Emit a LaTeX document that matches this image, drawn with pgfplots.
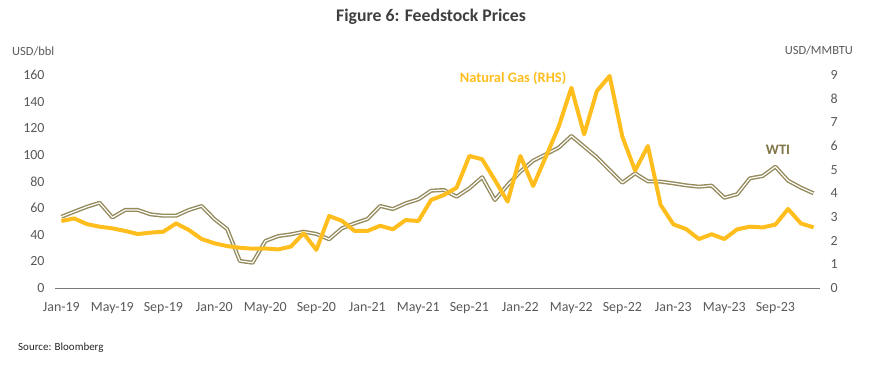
\documentclass[border=0pt]{standalone}
\usepackage{pgfplots}
\pgfplotsset{compat=1.18}
\usepackage{pgfplotstable}
\usepackage{fontspec}
\setmainfont{Carlito}
\definecolor{gas}{HTML}{FFBE1E}
\definecolor{wti}{HTML}{948A5C}
\definecolor{wtitext}{HTML}{7F7547}
\definecolor{txt}{HTML}{595959}
\definecolor{ttl}{HTML}{3F3F3F}
\pgfplotstableread{
i wti
0 53.5
1 57.3
2 61
3 64
4 53
5 58.6
6 58.6
7 55.3
8 54.3
9 54.3
10 58.6
11 61.6
12 51.8
13 44.3
14 20.3
15 19
16 35.3
17 39
18 40.3
19 42.3
20 40.6
21 36.6
22 44.8
23 48.6
24 51.8
25 61.6
26 59.3
27 63.6
28 66.6
29 73.1
30 73.6
31 68.6
32 74.9
33 83.2
34 66.1
35 77.4
36 87.4
37 95.6
38 100.4
39 105.4
40 114.2
41 106.2
42 98.2
43 88.6
44 79.1
45 86.1
46 80.1
47 79.9
48 78.6
49 77.1
50 76.1
51 76.9
52 67.8
53 70.4
54 82.4
55 84.1
56 91.1
57 80.6
58 75.4
59 71.1
}\wtidata
\pgfplotstableread{
i gas
0 2.83
1 2.94
2 2.70
3 2.59
4 2.52
5 2.41
6 2.28
7 2.34
8 2.38
9 2.73
10 2.45
11 2.07
12 1.89
13 1.77
14 1.70
15 1.66
16 1.67
17 1.63
18 1.75
19 2.31
20 1.61
21 3.04
22 2.84
23 2.41
24 2.41
25 2.63
26 2.48
27 2.87
28 2.83
29 3.72
30 3.93
31 4.24
32 5.58
33 5.44
34 4.56
35 3.65
36 5.58
37 4.31
38 5.55
39 6.81
40 8.46
41 6.49
42 8.32
43 8.96
44 6.39
45 4.96
46 6.0
47 3.51
48 2.69
49 2.49
50 2.07
51 2.27
52 2.07
53 2.48
54 2.59
55 2.56
56 2.68
57 3.34
58 2.73
59 2.56
}\gasdata
\begin{document}
\begin{tikzpicture}
\pgfplotsset{every axis/.append style={
  scale only axis, width=765bp, height=213bp,
  xmin=-0.5, xmax=59.5, ymin=0,
  at={(0pt,0pt)}, anchor=south west,
  axis line style={draw=none}, tick style={draw=none},
  tick label style={font=\fontsize{14}{16}\selectfont, text=txt},
  /pgf/number format/assume math mode=true,
  clip=false}}
\begin{axis}[
  ymax=160, ytick={0,20,...,160},
  yticklabel style={xshift=-7bp},
  xtick={0,4,...,56},
  xticklabels={Jan-19,May-19,Sep-19,Jan-20,May-20,Sep-20,Jan-21,May-21,Sep-21,Jan-22,May-22,Sep-22,Jan-23,May-23,Sep-23},
  xticklabel style={yshift=-11bp},
]
\draw[txt!80, line width=0.9bp] (axis cs:-0.5,0) -- (axis cs:59.5,0);
\addplot[draw=wti, double=white, double distance=1.2bp, line width=1.4bp, line join=round, mark=none] table[x=i,y=wti] {\wtidata};
\end{axis}
\begin{axis}[
  ymax=9, ytick={0,1,...,9},
  yticklabel pos=right,
  yticklabel style={xshift=7bp},
  xtick=\empty,
]
\addplot[draw=gas, line width=4bp, line join=round, mark=none] table[x=i,y=gas] {\gasdata};
\end{axis}
\node[font=\bfseries\fontsize{17.8}{20}\selectfont, text=ttl] at (376bp,271bp) {Figure 6: Feedstock Prices};
\node[anchor=west, font=\fontsize{12.5}{14}\selectfont, text=txt, inner sep=0] at (-43bp,237bp) {USD/bbl};
\node[anchor=east, font=\fontsize{12.5}{14}\selectfont, text=txt, inner sep=0] at (798bp,238bp) {USD/MMBTU};
\node[font=\bfseries\fontsize{14.5}{16}\selectfont, text=gas] at (458bp,210bp) {Natural Gas (RHS)};
\node[font=\bfseries\fontsize{14.5}{16}\selectfont, text=wtitext] at (723bp,138bp) {WTI};
\node[anchor=west, font=\fontsize{11}{13}\selectfont, text=black!85, inner sep=0] at (-37bp,-60bp) {Source: Bloomberg};
\path[use as bounding box] (-55bp,-79bp) rectangle (815bp,288bp);
\end{tikzpicture}
\end{document}
